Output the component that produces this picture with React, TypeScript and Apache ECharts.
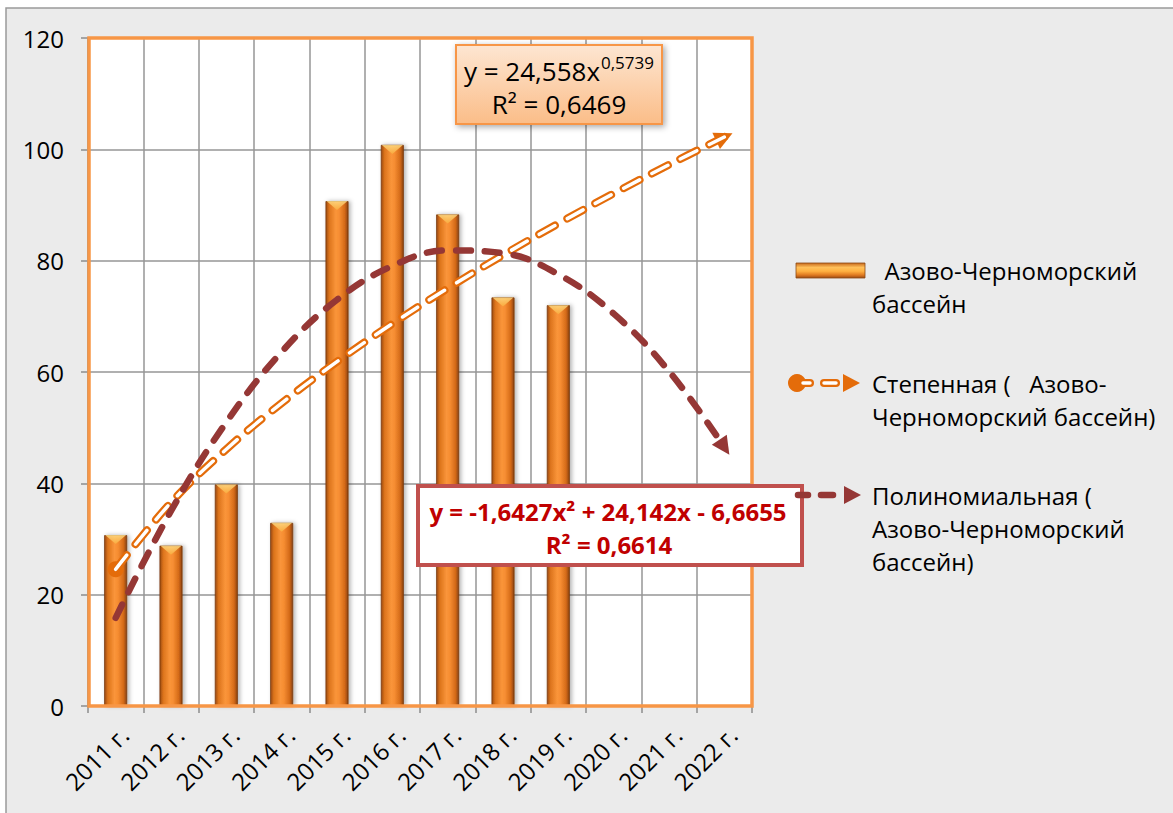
import React, { useEffect, useRef } from "react";
import * as echarts from "echarts";

const categories = ["2011 г.", "2012 г.", "2013 г.", "2014 г.", "2015 г.", "2016 г.", "2017 г.", "2018 г.", "2019 г.", "2020 г.", "2021 г.", "2022 г."];
const catchValues = [30.7, 28.8, 39.8, 32.9, 90.7, 100.8, 88.3, 73.4, 72.0];
const powerTrend = [24.56, 36.55, 46.13, 54.41, 61.85, 68.67, 75.03, 80.99, 86.66, 92.07, 97.24, 102.21];
const polyTrend = [15.83, 35.04, 50.98, 63.62, 72.98, 79.05, 81.84, 81.34, 77.55, 70.48, 60.13, 46.49];
const seriesName = "Азово-Черноморский бассейн";
const legendBarLines = ["  Азово-Черноморский", "бассейн"];
const legendPowerLines = ["Степенная (   Азово-", "Черноморский бассейн)"];
const legendPolyLines = ["Полиномиальная (", "Азово-Черноморский", "бассейн)"];
const powerEqMain = "y = 24,558x";
const powerEqSup = "0,5739";
const powerR2 = "R² = 0,6469";
const polyEq = "y = -1,6427x² + 24,142x - 6,6655";
const polyR2 = "R² = 0,6614";

const FONT = '"Open Sans", "Noto Sans", sans-serif';
const FS = 24;
const ORANGE = "#e46c0a";
const DARKRED = "#953735";

export default function App() {
  const ref = useRef<HTMLDivElement>(null);
  useEffect(() => {
    if (!ref.current) return;
    const chart = echarts.init(ref.current, null, { renderer: "svg" });
    const last = categories.length - 1;
    const powerData = powerTrend.map((v, i) => {
      if (i === 0) return { value: v, symbol: "circle", symbolSize: 16, itemStyle: { color: ORANGE } };
      if (i === last) return { value: v, symbol: "triangle", symbolSize: [18, 18], symbolRotate: -65, itemStyle: { color: ORANGE } };
      return { value: v, symbol: "none" };
    });
    const polyData = polyTrend.map((v, i) => {
      if (i === last) return { value: v, symbol: "triangle", symbolSize: [18, 18], symbolRotate: -146, itemStyle: { color: DARKRED } };
      return { value: v, symbol: "none" };
    });
    const txt = (text: string, x: number, y: number, extra: any = {}) => ({
      type: "text",
      x,
      y,
      style: { text, fill: "#000", fontSize: FS, fontFamily: FONT, align: "left", verticalAlign: "middle", ...extra },
      z: 20,
      silent: true,
    });
    const option: any = {
      animation: false,
      backgroundColor: "#ffffff",
      grid: {
        left: 88,
        right: 421,
        top: 38,
        bottom: 107,
        show: true,
        backgroundColor: "#ffffff",
        borderWidth: 0,
        z: 0,
      },
      xAxis: {
        type: "category",
        data: categories,
        boundaryGap: true,
        z: 2,
        axisLine: { show: true, lineStyle: { color: "#8c8c8c", width: 1.5 } },
        axisTick: { show: true, length: 7, lineStyle: { color: "#8c8c8c", width: 1.5 } },
        splitLine: { show: true, lineStyle: { color: "#969696", width: 1.5 } },
        axisLabel: { rotate: 45, margin: 16, verticalAlign: "top", color: "#000", fontSize: FS, fontFamily: FONT, interval: 0 },
      },
      yAxis: {
        type: "value",
        min: 0,
        max: 120,
        interval: 20,
        z: 2,
        axisLine: { show: true, lineStyle: { color: "#8c8c8c", width: 1.5 } },
        axisTick: { show: true, length: 7, lineStyle: { color: "#8c8c8c", width: 1.5 } },
        splitLine: { show: true, lineStyle: { color: "#969696", width: 1.5 } },
        axisLabel: { margin: 24, color: "#000", fontSize: FS, fontFamily: FONT },
      },
      series: [
        {
          name: seriesName,
          type: "bar",
          data: catchValues,
          barWidth: 23,
          z: 3,
          itemStyle: {
            borderColor: "#7a3a0c",
            borderWidth: 0.8,
            shadowColor: "rgba(0,0,0,0.3)",
            shadowBlur: 4,
            shadowOffsetX: 2,
            color: new echarts.graphic.LinearGradient(0, 0, 1, 0, [
              { offset: 0, color: "#9c4a10" },
              { offset: 0.15, color: "#dc741c" },
              { offset: 0.45, color: "#fa953a" },
              { offset: 0.6, color: "#f68d32" },
              { offset: 0.85, color: "#d46a18" },
              { offset: 1, color: "#8a4210" },
            ]),
          },
        },
        {
          type: "scatter",
          data: catchValues,
          symbol: "path://M0,0 L20,0 L10,8 Z",
          symbolSize: [21, 9],
          symbolOffset: [0, 4.5],
          silent: true,
          z: 4,
          itemStyle: {
            color: new echarts.graphic.LinearGradient(0, 0, 0, 1, [
              { offset: 0, color: "#ffe08a" },
              { offset: 1, color: "#f9b040" },
            ]),
          },
        },
        {
          type: "line",
          data: powerData,
          smooth: 0.4,
          z: 6,
          silent: true,
          lineStyle: { color: ORANGE, width: 8, type: [18, 14], cap: "round" },
        },
        {
          type: "line",
          data: powerTrend,
          smooth: 0.4,
          symbol: "none",
          z: 7,
          silent: true,
          lineStyle: { color: "#ffffff", width: 3.5, type: [18, 14], cap: "round" },
        },
        {
          type: "line",
          data: polyData,
          smooth: 0.4,
          z: 8,
          silent: true,
          lineStyle: { color: DARKRED, width: 6.5, type: [15, 14], cap: "round" },
        },
      ],
      graphic: [
        {
          type: "rect",
          z: -100,
          silent: true,
          shape: { x: 6, y: 8, width: 1170, height: 810 },
          style: { fill: "#ebebeb", stroke: "#9a9a9a", lineWidth: 1.5 },
        },
        // plot area orange frame
        {
          type: "rect",
          z: 5,
          silent: true,
          shape: { x: 89, y: 38, width: 663, height: 668 },
          style: { fill: "none", stroke: "#f79646", lineWidth: 3.5 },
        },
        // power equation box
        {
          type: "rect",
          z: 15,
          silent: true,
          shape: { x: 456, y: 45, width: 206, height: 79 },
          style: {
            fill: new echarts.graphic.LinearGradient(0, 0, 0, 1, [
              { offset: 0, color: "#fde6d2" },
              { offset: 1, color: "#fbbd88" },
            ]),
            stroke: "#f79646",
            lineWidth: 2,
            shadowBlur: 6,
            shadowOffsetX: 2,
            shadowOffsetY: 2,
            shadowColor: "rgba(0,0,0,0.35)",
          },
        },
        txt(powerEqMain, 600, 71, { align: "right", fontSize: 26 }),
        txt(powerEqSup, 601, 62, { fontSize: 17 }),
        txt(powerR2, 559, 104, { align: "center", fontSize: 26 }),
        // polynomial equation box
        {
          type: "rect",
          z: 15,
          silent: true,
          shape: { x: 418, y: 486, width: 384, height: 79 },
          style: { fill: "#ffffff", stroke: "#c0504d", lineWidth: 4 },
        },
        txt(polyEq, 608, 511, { align: "center", fontWeight: "bold", fill: "#c00000", fontSize: 24 }),
        txt(polyR2, 609, 544, { align: "center", fontWeight: "bold", fill: "#c00000", fontSize: 24 }),
        // legend: bar
        {
          type: "rect",
          z: 20,
          silent: true,
          shape: { x: 796, y: 263, width: 69, height: 15 },
          style: {
            stroke: "#8a4a14",
            lineWidth: 0.8,
            fill: new echarts.graphic.LinearGradient(0, 0, 0, 1, [
              { offset: 0, color: "#c8691c" },
              { offset: 0.3, color: "#ffc05a" },
              { offset: 0.55, color: "#ffb040" },
              { offset: 0.8, color: "#e07a20" },
              { offset: 1, color: "#9c4c14" },
            ]),
          },
        },
        txt(legendBarLines[0], 872, 270),
        txt(legendBarLines[1], 872, 303),
        // legend: power
        { type: "circle", z: 20, silent: true, shape: { cx: 797, cy: 383, r: 9 }, style: { fill: ORANGE } },
        { type: "line", z: 20, silent: true, shape: { x1: 803, y1: 383, x2: 810, y2: 383 }, style: { stroke: ORANGE, lineWidth: 8, lineCap: "round" } },
        { type: "line", z: 21, silent: true, shape: { x1: 803, y1: 383, x2: 810, y2: 383 }, style: { stroke: "#fff", lineWidth: 3.5, lineCap: "round" } },
        { type: "line", z: 20, silent: true, shape: { x1: 824, y1: 383, x2: 836, y2: 383 }, style: { stroke: ORANGE, lineWidth: 8, lineCap: "round" } },
        { type: "line", z: 21, silent: true, shape: { x1: 824, y1: 383, x2: 836, y2: 383 }, style: { stroke: "#fff", lineWidth: 3.5, lineCap: "round" } },
        { type: "polygon", z: 20, silent: true, shape: { points: [[843, 374], [860, 383], [843, 392]] }, style: { fill: ORANGE } },
        txt(legendPowerLines[0], 872, 383),
        txt(legendPowerLines[1], 872, 416),
        // legend: poly
        { type: "line", z: 20, silent: true, shape: { x1: 798, y1: 495, x2: 808, y2: 495 }, style: { stroke: DARKRED, lineWidth: 6.5, lineCap: "round" } },
        { type: "line", z: 20, silent: true, shape: { x1: 821, y1: 495, x2: 833, y2: 495 }, style: { stroke: DARKRED, lineWidth: 6.5, lineCap: "round" } },
        { type: "polygon", z: 20, silent: true, shape: { points: [[844, 486], [861, 495], [844, 504]] }, style: { fill: DARKRED } },
        txt(legendPolyLines[0], 872, 495),
        txt(legendPolyLines[1], 872, 528),
        txt(legendPolyLines[2], 872, 561),
      ],
    };
    chart.setOption(option);
    return () => chart.dispose();
  }, []);
  return (
    <div
      ref={ref}
      style={{ position: "fixed", left: 0, top: 0, width: 1173, height: 813 }}
    />
  );
}
